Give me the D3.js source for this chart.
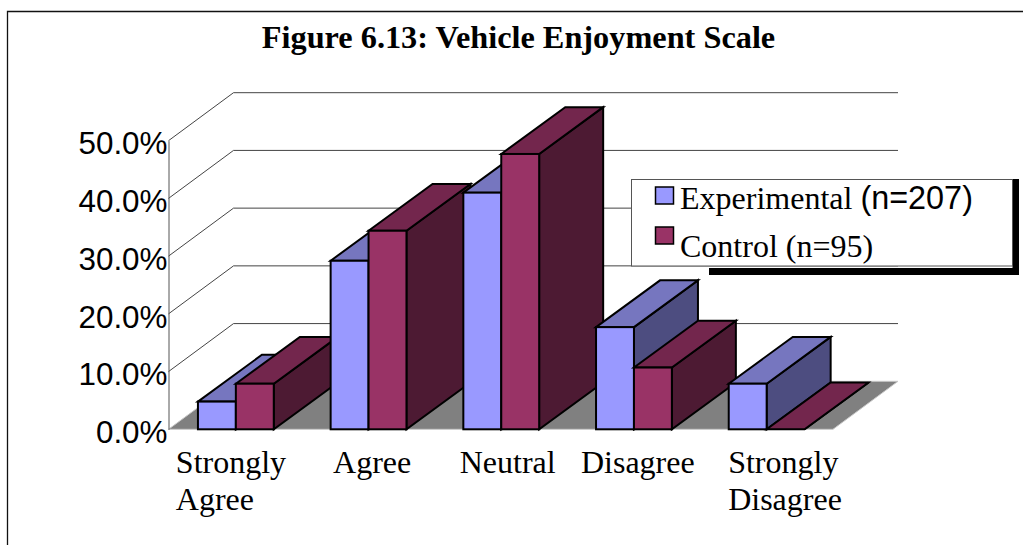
<!DOCTYPE html>
<meta charset="utf-8">
<style>
    body { margin: 0; background: #fff; }
    svg { display: block; }
    .serif { font-family: "Liberation Serif", serif; fill: #000; }
    .sans { font-family: "Liberation Sans", sans-serif; fill: #000; }
</style>
<body>
<script src="https://d3js.org/d3.v7.min.js"></script>
<script>
    var title = "Figure 6.13: Vehicle Enjoyment Scale";
    var categories = ["Strongly Agree", "Agree", "Neutral", "Disagree", "Strongly Disagree"];
    var categoryLines = [["Strongly", "Agree"], ["Agree"], ["Neutral"], ["Disagree"], ["Strongly", "Disagree"]];
    var seriesNames = ["Experimental", "Control"];
    var experimental = [4.8, 29.2, 41.0, 17.7, 7.9];
    var control = [7.9, 34.4, 47.7, 10.7, 0];
    var yTicks = [0, 10, 20, 30, 40, 50];

    var width = 1023, height = 545;

    // oblique offset from the front plane to the back wall, bars stop just short of it
    var depth = { x: 65, y: -48 };
    var barDepth = { x: 64, y: -46.8 };

    var x = d3.scaleBand().domain(categories).range([169.5, 833]);
    var xBar = d3.scaleBand().domain(seriesNames).range([0, x.bandwidth()]).paddingOuter(0.75);
    var y = d3.scaleLinear().domain([0, 50]).range([429.3, 140.7]);

    // left edge of each category label relative to the band centre
    var labelShift = [-60, -35.5, -41.5, -53, -38.5];

    var colors = {
        Experimental: { front: "#9999ff", top: "#7676bf", side: "#4d4d80" },
        Control: { front: "#993366", top: "#73264d", side: "#4d1a33" }
    };

    var svg = d3.select("body").append("svg")
        .attr("width", width)
        .attr("height", height);

    function poly(points) {
        return points.map(function (p) { return p.join(","); }).join(" ");
    }

    // chart frame, open at the right and bottom
    svg.append("path")
        .attr("d", "M7.5," + height + "V11.5H" + width)
        .attr("fill", "none")
        .attr("stroke", "#111")
        .attr("stroke-width", 1.3);

    svg.append("text")
        .attr("class", "serif")
        .attr("x", 518.5)
        .attr("y", 48)
        .attr("text-anchor", "middle")
        .attr("font-weight", "bold")
        .attr("font-size", 32.3)
        .text(title);

    // floor
    var x0 = y.range()[0];
    var floorLeft = x.range()[0] - 1, floorRight = x.range()[1];
    svg.append("polygon")
        .attr("points", poly([
            [floorLeft, x0],
            [floorLeft + depth.x, x0 + depth.y],
            [floorRight + depth.x, x0 + depth.y],
            [floorRight, x0]
        ]))
        .attr("fill", "#808080")
        .attr("stroke", "#c8c8c8")
        .attr("stroke-width", 1);

    // gridlines on the wall and the side wall
    var grid = svg.append("g").attr("fill", "none").attr("stroke", "#444").attr("stroke-width", 1);
    grid.selectAll("path")
        .data(yTicks.filter(function (d) { return d > 0; }))
        .enter().append("path")
        .attr("d", function (d) {
            return "M" + floorLeft + "," + y(d) +
                "L" + (floorLeft + depth.x) + "," + (y(d) + depth.y) +
                "H" + (floorRight + depth.x);
        });

    // y axis
    var yAxis = svg.append("g")
        .attr("class", "sans")
        .attr("transform", "translate(" + floorLeft + ",0)")
        .call(d3.axisLeft(y)
            .tickValues(yTicks)
            .tickSizeInner(0)
            .tickSizeOuter(0)
            .tickPadding(1)
            .tickFormat(function (d) { return d.toFixed(1) + "%"; }));
    yAxis.attr("font-family", null).attr("font-size", 31.4);
    yAxis.select(".domain").attr("stroke", "#555").attr("stroke-width", 1);
    yAxis.selectAll("text").attr("dy", "0.42em").attr("fill", "#000");

    // bars, back to front is the same as left to right here
    var bars = [];
    categories.forEach(function (c, i) {
        bars.push({ cat: c, name: "Experimental", value: experimental[i] });
        bars.push({ cat: c, name: "Control", value: control[i] });
    });

    var bar = svg.selectAll(".bar")
        .data(bars)
        .enter().append("g")
        .attr("class", "bar")
        .attr("stroke", "#000")
        .attr("stroke-width", 2)
        .attr("stroke-linejoin", "miter");

    function left(d) { return x(d.cat) + xBar(d.name); }
    function right(d) { return left(d) + xBar.bandwidth(); }

    bar.append("polygon")
        .attr("fill", function (d) { return colors[d.name].side; })
        .attr("points", function (d) {
            return poly([
                [right(d), y(0)],
                [right(d), y(d.value)],
                [right(d) + barDepth.x, y(d.value) + barDepth.y],
                [right(d) + barDepth.x, y(0) + barDepth.y]
            ]);
        });

    bar.append("polygon")
        .attr("fill", function (d) { return colors[d.name].top; })
        .attr("points", function (d) {
            return poly([
                [left(d), y(d.value)],
                [left(d) + barDepth.x, y(d.value) + barDepth.y],
                [right(d) + barDepth.x, y(d.value) + barDepth.y],
                [right(d), y(d.value)]
            ]);
        });

    bar.append("rect")
        .attr("fill", function (d) { return colors[d.name].front; })
        .attr("x", left)
        .attr("y", function (d) { return y(d.value); })
        .attr("width", xBar.bandwidth())
        .attr("height", function (d) { return y(0) - y(d.value); });

    // category labels, lines are left aligned
    var label = svg.selectAll(".cat")
        .data(categories)
        .enter().append("text")
        .attr("class", "cat serif")
        .attr("font-size", 32)
        .attr("y", 473);

    label.selectAll("tspan")
        .data(function (d, i) {
            return categoryLines[i].map(function (line) {
                return { line: line, left: x(d) + x.bandwidth() / 2 + labelShift[i] };
            });
        })
        .enter().append("tspan")
        .attr("x", function (d) { return d.left; })
        .attr("dy", function (d, i) { return i ? 37 : 0; })
        .text(function (d) { return d.line; });

    // legend with its hard shadow
    var legend = svg.append("g");
    legend.append("rect").attr("x", 709).attr("y", 268).attr("width", 310).attr("height", 7).attr("fill", "#000");
    legend.append("rect").attr("x", 1012.5).attr("y", 179).attr("width", 6.5).attr("height", 96).attr("fill", "#000");
    legend.append("rect")
        .attr("x", 631.5).attr("y", 179.5).attr("width", 381).attr("height", 86.5)
        .attr("fill", "#fff").attr("stroke", "#555").attr("stroke-width", 1);

    var legendText = [["Experimental ", "(n=207)"], ["Control (n=95)", ""]];
    var item = legend.selectAll(".item")
        .data(seriesNames)
        .enter().append("g")
        .attr("class", "item");

    item.append("rect")
        .attr("x", 655.5)
        .attr("y", function (d, i) { return 187 + i * 40; })
        .attr("width", 18)
        .attr("height", 17)
        .attr("fill", function (d) { return colors[d].front; })
        .attr("stroke", "#000")
        .attr("stroke-width", 1.5);

    var itemText = item.append("text")
        .attr("x", 680)
        .attr("y", function (d, i) { return 209 + i * 48; })
        .attr("font-size", 32);
    itemText.append("tspan")
        .attr("class", "serif")
        .text(function (d, i) { return legendText[i][0]; });
    itemText.append("tspan")
        .attr("class", "sans")
        .attr("font-size", 32.4)
        .text(function (d, i) { return legendText[i][1]; });
</script>
</body>
